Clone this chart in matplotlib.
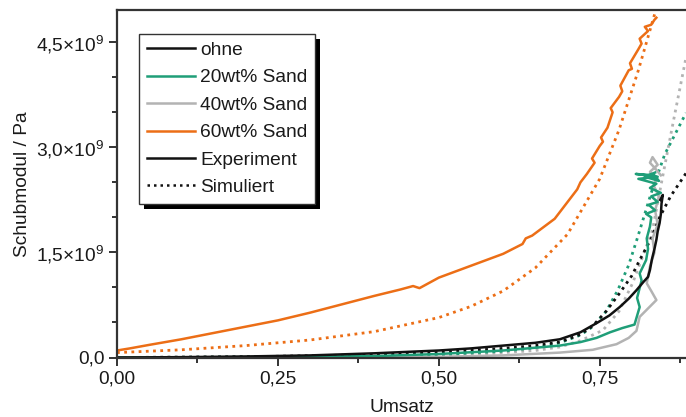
import numpy as np
import matplotlib
matplotlib.use("Agg")
import matplotlib.pyplot as plt
from matplotlib.lines import Line2D
from matplotlib.patches import Rectangle
from matplotlib.ticker import MultipleLocator, FuncFormatter

plt.rcParams['font.family'] = ['Liberation Sans', 'DejaVu Sans']
plt.rcParams['mathtext.fontset'] = 'custom'
plt.rcParams['mathtext.rm'] = 'Liberation Sans'
plt.rcParams['mathtext.default'] = 'regular'

# Umsatz / Schubmodul (in 1e9 Pa)
# Simuliert
sim_ohne_x = [0, 0.2, 0.4, 0.5, 0.6, 0.65, 0.688, 0.72, 0.739, 0.76, 0.781, 0.80, 0.812, 0.83, 0.843, 0.86, 0.884]
sim_ohne_y = [0.0, 0.01, 0.04, 0.07, 0.13, 0.17, 0.22, 0.33, 0.45, 0.66, 0.92, 1.17, 1.39, 1.70, 2.0, 2.30, 2.63]
sim_20_x = [0, 0.3, 0.5, 0.6, 0.65, 0.688, 0.72, 0.739, 0.76, 0.778, 0.795, 0.809, 0.83, 0.851, 0.884]
sim_20_y = [0, 0.01, 0.04, 0.09, 0.14, 0.21, 0.32, 0.44, 0.66, 0.96, 1.32, 1.72, 2.35, 2.90, 3.49]
sim_40_x = [0, 0.4, 0.55, 0.65, 0.688, 0.72, 0.755, 0.78, 0.801, 0.815, 0.832, 0.846, 0.865, 0.884]
sim_40_y = [0, 0.01, 0.04, 0.10, 0.15, 0.24, 0.39, 0.66, 1.06, 1.40, 1.82, 2.50, 3.40, 4.28]
sim_60_x = [0, 0.1, 0.2, 0.3, 0.4, 0.5, 0.55, 0.6, 0.65, 0.7, 0.75, 0.78, 0.81, 0.84]
sim_60_y = [0.07, 0.11, 0.17, 0.25, 0.37, 0.57, 0.73, 0.95, 1.28, 1.76, 2.55, 3.25, 4.10, 5.05]

# Experiment
exp_ohne_x = [0, 0.1, 0.2, 0.3, 0.4, 0.5, 0.55, 0.6, 0.65, 0.688, 0.72, 0.745, 0.765, 0.781, 0.795, 0.807,
              0.818, 0.825, 0.828, 0.831, 0.835, 0.838, 0.84, 0.843, 0.845, 0.846, 0.848, 0.844]
exp_ohne_y = [0, 0.005, 0.015, 0.03, 0.06, 0.10, 0.13, 0.17, 0.21, 0.26, 0.36, 0.49, 0.60, 0.72, 0.84, 0.96,
              1.08, 1.15, 1.25, 1.40, 1.55, 1.68, 1.80, 1.92, 2.05, 2.20, 2.32, 2.25]
exp_20_x = [0, 0.2, 0.4, 0.5, 0.6, 0.688, 0.72, 0.745, 0.766, 0.785, 0.804, 0.812, 0.808, 0.815, 0.812,
            0.822, 0.825, 0.823, 0.828, 0.83, 0.822, 0.836, 0.826, 0.84, 0.83, 0.845, 0.828, 0.838,
            0.81, 0.84, 0.806, 0.835, 0.842, 0.82, 0.836]
exp_20_y = [0, 0.005, 0.02, 0.05, 0.10, 0.17, 0.22, 0.28, 0.36, 0.42, 0.47, 0.72, 0.85, 1.1, 1.2,
            1.39, 1.55, 1.70, 1.87, 2.0, 2.05, 2.1, 2.18, 2.22, 2.3, 2.35, 2.42, 2.48,
            2.55, 2.58, 2.62, 2.60, 2.52, 2.58, 2.64]
exp_40_x = [0, 0.3, 0.5, 0.6, 0.688, 0.739, 0.776, 0.795, 0.807, 0.812, 0.825, 0.838, 0.83, 0.823, 0.828,
            0.835, 0.832, 0.84, 0.836, 0.842, 0.834, 0.838, 0.828, 0.84, 0.832, 0.828, 0.836, 0.845]
exp_40_y = [0, 0.0, 0.01, 0.03, 0.07, 0.11, 0.19, 0.28, 0.38, 0.58, 0.70, 0.82, 0.95, 1.06, 1.3,
            1.5, 1.7, 1.9, 2.1, 2.3, 2.45, 2.55, 2.65, 2.75, 2.86, 2.78, 2.7, 2.6]
exp_60_x = [0, 0.02, 0.05, 0.1, 0.15, 0.2, 0.25, 0.3, 0.35, 0.4, 0.44, 0.46, 0.47, 0.5, 0.55, 0.6, 0.63,
            0.635, 0.645, 0.68, 0.70, 0.715, 0.72, 0.73, 0.742, 0.738, 0.75, 0.755, 0.752, 0.762, 0.77,
            0.767, 0.78, 0.785, 0.782, 0.795, 0.80, 0.797, 0.81, 0.815, 0.812, 0.825, 0.82, 0.83, 0.835, 0.838]
exp_60_y = [0.10, 0.13, 0.18, 0.26, 0.35, 0.44, 0.53, 0.64, 0.76, 0.88, 0.97, 1.02, 0.99, 1.14, 1.31, 1.48, 1.62,
            1.70, 1.74, 1.98, 2.22, 2.40, 2.50, 2.62, 2.78, 2.84, 3.02, 3.08, 3.14, 3.28, 3.50,
            3.56, 3.72, 3.80, 3.88, 4.10, 4.12, 4.20, 4.40, 4.48, 4.55, 4.66, 4.72, 4.75, 4.82, 4.85]

c_teal = '#1f9e78'
c_grey = '#b3b3b3'
c_orange = '#ec6e16'
c_black = '#111111'

fig = plt.figure(figsize=(6.86, 4.17), dpi=100)
ax = fig.add_axes([117 / 686, 1 - 357.5 / 417, 569 / 686, 347.5 / 417])

dot = (0, (1, 1.6))
ax.plot(sim_60_x, np.array(sim_60_y) * 1e9, color=c_orange, lw=2.0, ls=dot)
ax.plot(sim_40_x, np.array(sim_40_y) * 1e9, color=c_grey, lw=2.0, ls=dot)
ax.plot(sim_20_x, np.array(sim_20_y) * 1e9, color=c_teal, lw=2.0, ls=dot)
ax.plot(sim_ohne_x, np.array(sim_ohne_y) * 1e9, color=c_black, lw=2.0, ls=dot)

ax.plot(exp_40_x, np.array(exp_40_y) * 1e9, color=c_grey, lw=1.8)
ax.plot(exp_20_x, np.array(exp_20_y) * 1e9, color=c_teal, lw=1.8)
ax.plot(exp_ohne_x, np.array(exp_ohne_y) * 1e9, color=c_black, lw=1.8)
ax.plot(exp_60_x, np.array(exp_60_y) * 1e9, color=c_orange, lw=1.8)

ax.set_xlim(0, 0.884)
ax.set_ylim(0, 4.96e9)
ax.xaxis.set_major_locator(MultipleLocator(0.25))
ax.xaxis.set_minor_locator(MultipleLocator(0.125))
ax.yaxis.set_major_locator(MultipleLocator(1.5e9))
ax.yaxis.set_minor_locator(MultipleLocator(0.5e9))
ax.xaxis.set_major_formatter(FuncFormatter(lambda v, p: f"{v:.2f}".replace('.', ',')))


def yfmt(v, p):
    if abs(v) < 1:
        return "0,0"
    return f"{v / 1e9:.1f}".replace('.', ',') + "×$10^{9}$"


ax.yaxis.set_major_formatter(FuncFormatter(yfmt))

for s in ['left', 'bottom', 'top']:
    ax.spines[s].set_linewidth(1.6)
    ax.spines[s].set_color('#333333')
ax.spines['right'].set_visible(False)
ax.tick_params(which='major', direction='out', length=6, width=1.4, colors='#333333',
               labelsize=13.8, labelcolor='#1a1a1a', pad=3)
ax.tick_params(which='minor', direction='out', length=3.5, width=1.4, colors='#333333')

ax.set_xlabel("Umsatz", fontsize=13.8, color='#1a1a1a', labelpad=9)
ax.set_ylabel("Schubmodul / Pa", fontsize=13.8, color='#1a1a1a', labelpad=4)

handles = [
    Line2D([], [], color=c_black, lw=1.8),
    Line2D([], [], color=c_teal, lw=1.8),
    Line2D([], [], color=c_grey, lw=1.8),
    Line2D([], [], color=c_orange, lw=1.8),
    Line2D([], [], color=c_black, lw=1.8),
    Line2D([], [], color=c_black, lw=1.8, ls=dot),
]
labels = ["ohne", "20wt% Sand", "40wt% Sand", "60wt% Sand", "Experiment", "Simuliert"]
leg = ax.legend(handles, labels, loc='upper left', bbox_to_anchor=(22 / 569, 1 - 24 / 347.5),
                borderaxespad=0, fontsize=13.8, frameon=True, fancybox=False, framealpha=1,
                facecolor='white', handlelength=2.5, handletextpad=0.3, labelspacing=0.52,
                borderpad=0.4)
leg.get_frame().set_edgecolor('#333333')
leg.get_frame().set_linewidth(1.0)
leg.set_zorder(6)
for t in leg.get_texts():
    t.set_color('#1a1a1a')

fig.canvas.draw()
bb = leg.get_window_extent()
shadow = Rectangle((bb.x0 + 5, bb.y0 - 5), bb.width, bb.height, transform=None,
                   facecolor='black', edgecolor='none', zorder=5.5)
ax.add_artist(shadow)
shadow.set_clip_on(False)

fig.savefig("out.png", dpi=100)
